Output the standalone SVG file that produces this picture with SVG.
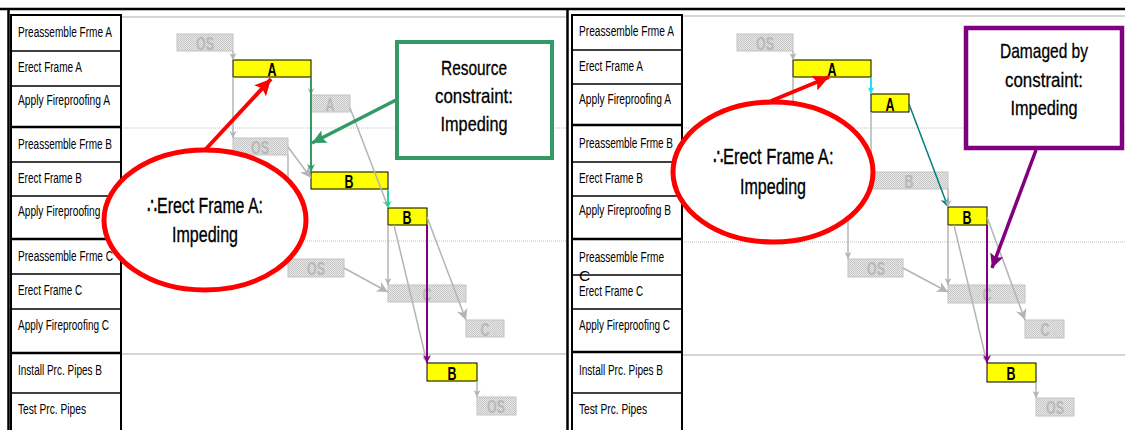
<svg xmlns="http://www.w3.org/2000/svg" width="1125" height="430" viewBox="0 0 1125 430">
<defs>
  <pattern id="hatch" width="2" height="2" patternUnits="userSpaceOnUse">
    <rect width="2" height="2" fill="#e8e8e8"/>
    <rect width="1" height="1" fill="#c6c6c6"/>
    <rect x="1" y="1" width="1" height="1" fill="#c6c6c6"/>
  </pattern>
  <marker id="gs" viewBox="0 0 10 10" refX="10" refY="5" markerWidth="9" markerHeight="7" orient="auto" markerUnits="userSpaceOnUse"><path d="M0,0 L10,5 L0,10 L3,5 z" fill="#b4b4b4"/></marker>
  <marker id="gl" viewBox="0 0 10 10" refX="10" refY="5" markerWidth="15" markerHeight="11" orient="auto" markerUnits="userSpaceOnUse"><path d="M0,0 L10,5 L0,10 L3,5 z" fill="#b4b4b4"/></marker>
  <marker id="mint" viewBox="0 0 10 10" refX="10" refY="5" markerWidth="10" markerHeight="7" orient="auto" markerUnits="userSpaceOnUse"><path d="M0,0 L10,5 L0,10 L3,5 z" fill="#22d49c"/></marker>
  <marker id="cyan" viewBox="0 0 10 10" refX="10" refY="5" markerWidth="10" markerHeight="7" orient="auto" markerUnits="userSpaceOnUse"><path d="M0,0 L10,5 L0,10 L3,5 z" fill="#22e0f0"/></marker>
  <marker id="teal" viewBox="0 0 10 10" refX="10" refY="5" markerWidth="14" markerHeight="9" orient="auto" markerUnits="userSpaceOnUse"><path d="M0,0 L10,5 L0,10 L3,5 z" fill="#008080"/></marker>
  <marker id="grn" viewBox="0 0 10 10" refX="10" refY="5" markerWidth="12" markerHeight="8" orient="auto" markerUnits="userSpaceOnUse"><path d="M0,0 L10,5 L0,10 L3,5 z" fill="#339966"/></marker>
  <marker id="pur" viewBox="0 0 10 10" refX="10" refY="5" markerWidth="11" markerHeight="8" orient="auto" markerUnits="userSpaceOnUse"><path d="M0,0 L10,5 L0,10 L3,5 z" fill="#800080"/></marker>
  <marker id="grnBig" viewBox="0 0 10 10" refX="10" refY="5" markerWidth="18" markerHeight="14" orient="auto" markerUnits="userSpaceOnUse"><path d="M0,0 L10,5 L0,10 L2,5 z" fill="#339966"/></marker>
  <marker id="redBig" viewBox="0 0 10 10" refX="10" refY="5" markerWidth="20" markerHeight="16" orient="auto" markerUnits="userSpaceOnUse"><path d="M0,0 L10,5 L0,10 L2,5 z" fill="#ff0000"/></marker>
  <marker id="purBig" viewBox="0 0 10 10" refX="10" refY="5" markerWidth="20" markerHeight="14" orient="auto" markerUnits="userSpaceOnUse"><path d="M0,0 L10,5 L0,10 L2,5 z" fill="#800080"/></marker>
</defs>
<style>
  .lbl{font-family:"Liberation Sans",Arial,sans-serif;font-size:15.5px;fill:#000}
  .bar{fill:#ffff00;stroke:#000;stroke-width:1}
  .gbar{fill:url(#hatch);stroke:#c4c4c4;stroke-width:1}
  .bt{font-family:"Liberation Sans",Arial,sans-serif;font-size:18px;font-weight:bold;text-anchor:middle;fill:#000}
  .gt{fill:#b8b8b8}
  .cg{stroke:#b4b4b4;stroke-width:1.5;fill:none}
  .grid{stroke:#c8c8c8;stroke-width:1.5}
  .dot{stroke:#c0c0c0;stroke-width:1;stroke-dasharray:1 1}
  .col{fill:#fff;stroke:#000;stroke-width:2}
  .row{stroke:#000;stroke-width:1.5}
  .grp{stroke:#000;stroke-width:2.5}
  .ell{fill:#fff;stroke:#ff0000;stroke-width:5}
  .big{font-family:"Liberation Sans",Arial,sans-serif;font-size:22px;text-anchor:middle;fill:#000;stroke:#000;stroke-width:0.35}
  .note{font-family:"Liberation Sans",Arial,sans-serif;font-size:21px;text-anchor:middle;fill:#000;stroke:#000;stroke-width:0.3}
</style>
<rect width="1125" height="430" fill="#fff"/>

<!-- frame -->
<g id="frame">
  <line x1="0" y1="9" x2="1125" y2="9" stroke="#000" stroke-width="2.5"/>
  <line x1="8.5" y1="9" x2="8.5" y2="430" stroke="#000" stroke-width="2.5"/>
  <line x1="567.5" y1="9" x2="567.5" y2="430" stroke="#000" stroke-width="2.5"/>
</g>

<!-- schedule grid -->
<g id="grid">
  <line class="grid" x1="121" y1="17" x2="566" y2="17"/>
  <line class="dot" x1="121" y1="128" x2="566" y2="128"/>
  <line class="dot" x1="121" y1="241" x2="566" y2="241"/>
  <line class="grid" x1="121" y1="354" x2="566" y2="354"/>
  <line class="grid" x1="682" y1="16" x2="1125" y2="16"/>
  <line class="dot" x1="682" y1="128" x2="1125" y2="128"/>
  <line class="dot" x1="682" y1="242" x2="1125" y2="242"/>
  <line class="grid" x1="682" y1="355" x2="1125" y2="355"/>
</g>

<!-- left schedule bars -->
<g id="L-os1"><rect class="gbar" x="177" y="34" width="56" height="17"/><text class="bt gt" x="205" y="50" textLength="18" lengthAdjust="spacingAndGlyphs">OS</text></g>
<g id="L-erectA"><rect class="bar" x="233" y="60" width="78" height="17"/><text class="bt" x="272" y="76" textLength="9" lengthAdjust="spacingAndGlyphs">A</text></g>
<g id="L-fpA"><rect class="gbar" x="311" y="95" width="39" height="17"/><text class="bt gt" x="330" y="111" textLength="9" lengthAdjust="spacingAndGlyphs">A</text></g>
<g id="L-os2"><rect class="gbar" x="233" y="138" width="55" height="17"/><text class="bt gt" x="260" y="154" textLength="18" lengthAdjust="spacingAndGlyphs">OS</text></g>
<g id="L-erectB"><rect class="bar" x="311" y="172" width="77" height="17"/><text class="bt" x="349" y="188" textLength="9" lengthAdjust="spacingAndGlyphs">B</text></g>
<g id="L-fpB"><rect class="bar" x="388" y="208" width="39" height="17"/><text class="bt" x="407" y="224" textLength="9" lengthAdjust="spacingAndGlyphs">B</text></g>
<g id="L-os3"><rect class="gbar" x="288" y="259" width="56" height="18"/><text class="bt gt" x="316" y="275" textLength="18" lengthAdjust="spacingAndGlyphs">OS</text></g>
<g id="L-erectC"><rect class="gbar" x="388" y="285" width="78" height="17"/><text class="bt gt" x="427" y="301" textLength="9" lengthAdjust="spacingAndGlyphs">C</text></g>
<g id="L-fpC"><rect class="gbar" x="466" y="320" width="38" height="17"/><text class="bt gt" x="485" y="336" textLength="9" lengthAdjust="spacingAndGlyphs">C</text></g>
<g id="L-pipes"><rect class="bar" x="427" y="363" width="50" height="18"/><text class="bt" x="452" y="380" textLength="9" lengthAdjust="spacingAndGlyphs">B</text></g>
<g id="L-test"><rect class="gbar" x="477" y="397" width="39" height="18"/><text class="bt gt" x="496" y="413" textLength="18" lengthAdjust="spacingAndGlyphs">OS</text></g>

<!-- right schedule bars -->
<g id="R-os1"><rect class="gbar" x="737" y="34" width="56" height="17"/><text class="bt gt" x="765" y="50" textLength="18" lengthAdjust="spacingAndGlyphs">OS</text></g>
<g id="R-erectA"><rect class="bar" x="793" y="60" width="78" height="17"/><text class="bt" x="832" y="76" textLength="9" lengthAdjust="spacingAndGlyphs">A</text></g>
<g id="R-fpA"><rect class="bar" x="871" y="94" width="38" height="18"/><text class="bt" x="890" y="111" textLength="9" lengthAdjust="spacingAndGlyphs">A</text></g>
<g id="R-erectB"><rect class="gbar" x="871" y="172" width="77" height="17"/><text class="bt gt" x="909" y="188" textLength="9" lengthAdjust="spacingAndGlyphs">B</text></g>
<g id="R-fpB"><rect class="bar" x="948" y="207" width="39" height="18"/><text class="bt" x="967" y="224" textLength="9" lengthAdjust="spacingAndGlyphs">B</text></g>
<g id="R-os3"><rect class="gbar" x="848" y="259" width="55" height="18"/><text class="bt gt" x="876" y="275" textLength="18" lengthAdjust="spacingAndGlyphs">OS</text></g>
<g id="R-erectC"><rect class="gbar" x="948" y="285" width="77" height="18"/><text class="bt gt" x="987" y="301" textLength="9" lengthAdjust="spacingAndGlyphs">C</text></g>
<g id="R-fpC"><rect class="gbar" x="1025" y="320" width="39" height="18"/><text class="bt gt" x="1045" y="336" textLength="9" lengthAdjust="spacingAndGlyphs">C</text></g>
<g id="R-pipes"><rect class="bar" x="987" y="363" width="49" height="19"/><text class="bt" x="1011" y="380" textLength="9" lengthAdjust="spacingAndGlyphs">B</text></g>
<g id="R-test"><rect class="gbar" x="1036" y="398" width="38" height="18"/><text class="bt gt" x="1055" y="414" textLength="18" lengthAdjust="spacingAndGlyphs">OS</text></g>

<!-- dependency links -->
<g id="connectors">
  <!-- left -->
  <line class="cg" x1="233" y1="51" x2="233" y2="60" marker-end="url(#gs)"/>
  <line class="cg" x1="233" y1="77" x2="233" y2="138" marker-end="url(#gs)"/>
  <line class="cg" x1="311" y1="77" x2="311" y2="95" marker-end="url(#gs)"/>
  <line x1="311" y1="77" x2="311" y2="172" stroke="#339966" stroke-width="2" marker-end="url(#grn)"/>
  <line class="cg" x1="288" y1="147" x2="311" y2="178" marker-end="url(#gl)"/>
  <line class="cg" x1="288" y1="155" x2="288" y2="259" marker-end="url(#gs)"/>
  <line class="cg" x1="350" y1="108" x2="388" y2="207" marker-end="url(#gs)"/>
  <line x1="388" y1="189" x2="388" y2="208" stroke="#22d49c" stroke-width="2" marker-end="url(#mint)"/>
  <line class="cg" x1="388" y1="225" x2="388" y2="285" marker-end="url(#gs)"/>
  <line class="cg" x1="394" y1="225" x2="427" y2="363" marker-end="url(#gs)"/>
  <line x1="427" y1="225" x2="427" y2="363" stroke="#800080" stroke-width="2" marker-end="url(#pur)"/>
  <line class="cg" x1="427" y1="217" x2="466" y2="320" marker-end="url(#gl)"/>
  <line class="cg" x1="344" y1="268" x2="388" y2="292" marker-end="url(#gl)"/>
  <line class="cg" x1="477" y1="381" x2="477" y2="397" marker-end="url(#gs)"/>
  <!-- right -->
  <line class="cg" x1="793" y1="51" x2="793" y2="60" marker-end="url(#gs)"/>
  <line class="cg" x1="793" y1="77" x2="793" y2="138" marker-end="url(#gs)"/>
  <line x1="871" y1="77" x2="871" y2="94" stroke="#22e0f0" stroke-width="2" marker-end="url(#cyan)"/>
  <line class="cg" x1="871" y1="112" x2="871" y2="172" marker-end="url(#gs)"/>
  <line x1="909" y1="104" x2="948" y2="207" stroke="#008080" stroke-width="1.5" marker-end="url(#teal)"/>
  <line class="cg" x1="948" y1="189" x2="948" y2="207" marker-end="url(#gs)"/>
  <line class="cg" x1="848" y1="200" x2="848" y2="259" marker-end="url(#gs)"/>
  <line class="cg" x1="948" y1="225" x2="948" y2="285" marker-end="url(#gs)"/>
  <line class="cg" x1="954" y1="225" x2="987" y2="363" marker-end="url(#gs)"/>
  <line x1="987" y1="225" x2="987" y2="363" stroke="#800080" stroke-width="2" marker-end="url(#pur)"/>
  <line class="cg" x1="987" y1="217" x2="1025" y2="320" marker-end="url(#gl)"/>
  <line class="cg" x1="903" y1="268" x2="948" y2="292" marker-end="url(#gl)"/>
  <line class="cg" x1="1036" y1="382" x2="1036" y2="398" marker-end="url(#gs)"/>
</g>

<!-- left task list -->
<g id="L-tasks">
  <rect class="col" x="11" y="15" width="110" height="420"/>
  <line class="row" x1="11" y1="51" x2="121" y2="51"/>
  <line class="row" x1="11" y1="86" x2="121" y2="86"/>
  <line class="grp" x1="11" y1="127" x2="121" y2="127"/>
  <line class="row" x1="11" y1="162" x2="121" y2="162"/>
  <line class="row" x1="11" y1="196" x2="121" y2="196"/>
  <line class="grp" x1="11" y1="239" x2="121" y2="239"/>
  <line class="row" x1="11" y1="274" x2="121" y2="274"/>
  <line class="row" x1="11" y1="309" x2="121" y2="309"/>
  <line class="grp" x1="11" y1="353" x2="121" y2="353"/>
  <line class="row" x1="11" y1="393" x2="121" y2="393"/>
  <text class="lbl" x="18" y="37" textLength="94" lengthAdjust="spacingAndGlyphs">Preassemble Frme A</text>
  <text class="lbl" x="18" y="72" textLength="64" lengthAdjust="spacingAndGlyphs">Erect Frame A</text>
  <text class="lbl" x="18" y="105" textLength="92" lengthAdjust="spacingAndGlyphs">Apply Fireproofing A</text>
  <text class="lbl" x="18" y="149" textLength="94" lengthAdjust="spacingAndGlyphs">Preassemble Frme B</text>
  <text class="lbl" x="18" y="183" textLength="64" lengthAdjust="spacingAndGlyphs">Erect Frame B</text>
  <text class="lbl" x="18" y="216" textLength="92" lengthAdjust="spacingAndGlyphs">Apply Fireproofing B</text>
  <text class="lbl" x="18" y="261" textLength="95" lengthAdjust="spacingAndGlyphs">Preassemble Frme C</text>
  <text class="lbl" x="18" y="295" textLength="64" lengthAdjust="spacingAndGlyphs">Erect Frame C</text>
  <text class="lbl" x="18" y="330" textLength="91" lengthAdjust="spacingAndGlyphs">Apply Fireproofing C</text>
  <text class="lbl" x="18" y="375" textLength="84" lengthAdjust="spacingAndGlyphs">Install Prc. Pipes B</text>
  <text class="lbl" x="18" y="414" textLength="68" lengthAdjust="spacingAndGlyphs">Test Prc. Pipes</text>
</g>

<!-- right task list -->
<g id="R-tasks">
  <rect class="col" x="572" y="15" width="110" height="420"/>
  <line class="row" x1="572" y1="50" x2="682" y2="50"/>
  <line class="row" x1="572" y1="84" x2="682" y2="84"/>
  <line class="grp" x1="572" y1="125" x2="682" y2="125"/>
  <line class="row" x1="572" y1="162" x2="682" y2="162"/>
  <line class="row" x1="572" y1="196" x2="682" y2="196"/>
  <line class="grp" x1="572" y1="239" x2="682" y2="239"/>
  <line class="row" x1="572" y1="275" x2="682" y2="275"/>
  <line class="row" x1="572" y1="309" x2="682" y2="309"/>
  <line class="grp" x1="572" y1="352" x2="682" y2="352"/>
  <line class="row" x1="572" y1="393" x2="682" y2="393"/>
  <text class="lbl" x="579" y="36" textLength="95" lengthAdjust="spacingAndGlyphs">Preassemble Frme A</text>
  <text class="lbl" x="579" y="71" textLength="64" lengthAdjust="spacingAndGlyphs">Erect Frame A</text>
  <text class="lbl" x="579" y="104" textLength="92" lengthAdjust="spacingAndGlyphs">Apply Fireproofing A</text>
  <text class="lbl" x="579" y="148" textLength="94" lengthAdjust="spacingAndGlyphs">Preassemble Frme B</text>
  <text class="lbl" x="579" y="183" textLength="64" lengthAdjust="spacingAndGlyphs">Erect Frame B</text>
  <text class="lbl" x="579" y="215" textLength="92" lengthAdjust="spacingAndGlyphs">Apply Fireproofing B</text>
  <text class="lbl" x="579" y="262" textLength="85" lengthAdjust="spacingAndGlyphs">Preassemble Frme</text>
  <text class="lbl" x="579" y="281">C</text>
  <text class="lbl" x="579" y="296" textLength="64" lengthAdjust="spacingAndGlyphs">Erect Frame C</text>
  <text class="lbl" x="579" y="330" textLength="91" lengthAdjust="spacingAndGlyphs">Apply Fireproofing C</text>
  <text class="lbl" x="579" y="375" textLength="84" lengthAdjust="spacingAndGlyphs">Install Prc. Pipes B</text>
  <text class="lbl" x="579" y="414" textLength="68" lengthAdjust="spacingAndGlyphs">Test Prc. Pipes</text>
</g>

<!-- left callouts -->
<g id="L-impeding">
  <ellipse class="ell" cx="205" cy="220" rx="101" ry="70"/>
  <text class="big" x="205" y="213" textLength="116" lengthAdjust="spacingAndGlyphs">∴Erect Frame A:</text>
  <text class="big" x="205" y="242" textLength="66" lengthAdjust="spacingAndGlyphs">Impeding</text>
</g>
<g id="L-resource">
  <rect x="397" y="42" width="155" height="116" fill="#fff" stroke="#339966" stroke-width="4"/>
  <text class="note" x="474" y="75" textLength="66" lengthAdjust="spacingAndGlyphs">Resource</text>
  <text class="note" x="474" y="103" textLength="78" lengthAdjust="spacingAndGlyphs">constraint:</text>
  <text class="note" x="474" y="131" textLength="67" lengthAdjust="spacingAndGlyphs">Impeding</text>
</g>
<g id="L-callout-arrows">
  <line x1="205" y1="150" x2="271" y2="79" stroke="#ff0000" stroke-width="4" marker-end="url(#redBig)"/>
  <line x1="396" y1="100" x2="312" y2="143" stroke="#339966" stroke-width="3.5" marker-end="url(#grnBig)"/>
</g>

<!-- right callouts -->
<g id="R-impeding">
  <ellipse class="ell" cx="773" cy="172" rx="100" ry="70"/>
  <text class="big" x="773" y="164" textLength="121" lengthAdjust="spacingAndGlyphs">∴Erect Frame A:</text>
  <text class="big" x="773" y="194" textLength="66" lengthAdjust="spacingAndGlyphs">Impeding</text>
</g>
<g id="R-damaged">
  <rect x="966" y="28" width="156" height="120" fill="#fff" stroke="#800080" stroke-width="4.5"/>
  <text class="note" x="1044" y="58" textLength="88" lengthAdjust="spacingAndGlyphs">Damaged by</text>
  <text class="note" x="1044" y="87" textLength="78" lengthAdjust="spacingAndGlyphs">constraint:</text>
  <text class="note" x="1044" y="115" textLength="67" lengthAdjust="spacingAndGlyphs">Impeding</text>
</g>
<g id="R-callout-arrows">
  <line x1="771" y1="101" x2="829" y2="77" stroke="#ff0000" stroke-width="4" marker-end="url(#redBig)"/>
  <line x1="1036" y1="150" x2="992" y2="268" stroke="#800080" stroke-width="3.5" marker-end="url(#purBig)"/>
</g>
</svg>
